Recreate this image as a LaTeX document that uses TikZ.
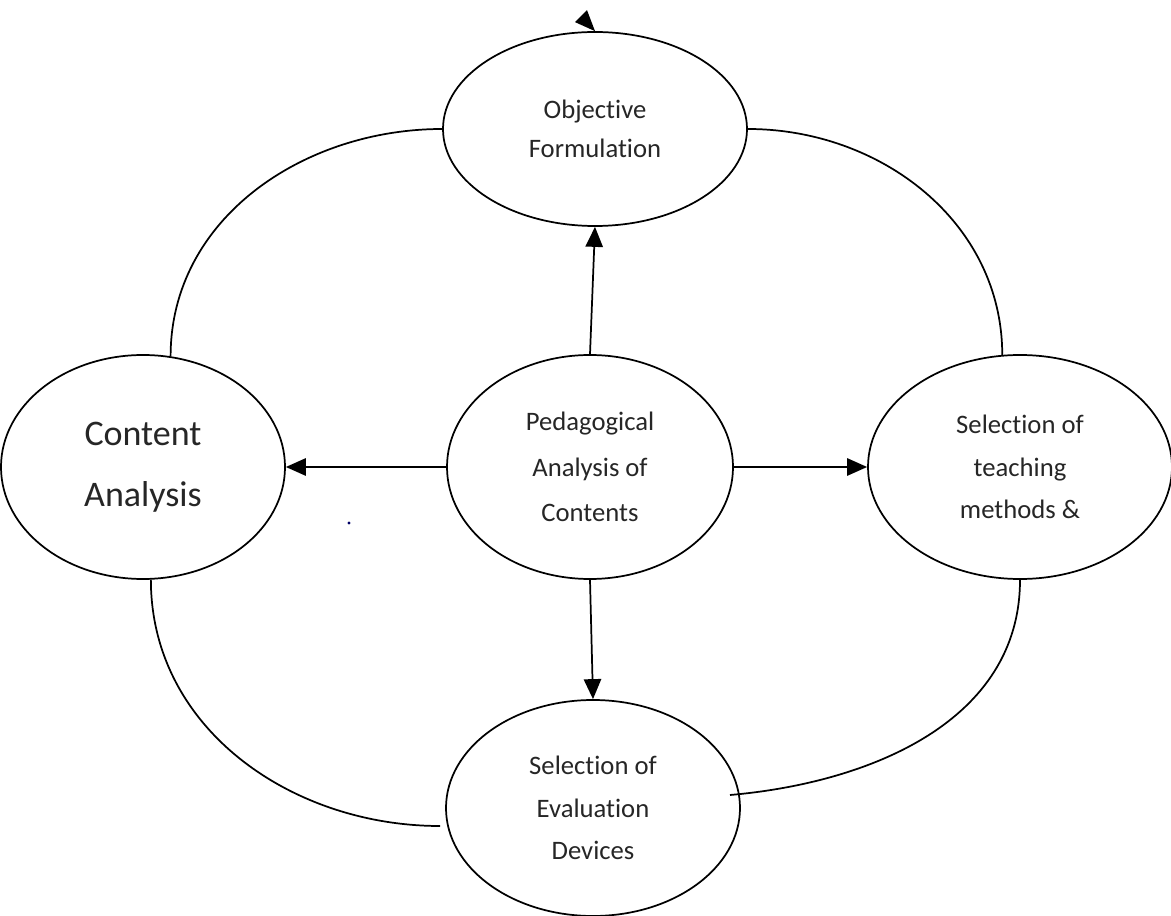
\documentclass[tikz,border=0pt]{standalone}
\usepackage{fontspec}
\setmainfont{Carlito}[Ligatures={NoCommon,NoContextual}]
\usetikzlibrary{shapes.geometric,arrows.meta}

\begin{document}
\begin{tikzpicture}[x=0.75pt,y=0.75pt,line width=1.3pt,
        >={Triangle[length=15pt,width=13pt]},
        bubble/.style={ellipse,draw,inner sep=0pt,align=center,text=black!85,
            font=\fontsize{20pt}{32pt}\selectfont}]
        \useasboundingbox (0,0) rectangle (1171,915);
        \node[bubble,minimum width=228pt,minimum height=145.5pt,
            font=\fontsize{20pt}{29pt}\selectfont] (obj) at (595,786) {Objective\\Formulation};
        \node[bubble,minimum width=213pt,minimum height=168pt,
            font=\fontsize{27pt}{46pt}\selectfont] (cont) at (143,448) {Content\\Analysis};
        \node[bubble,minimum width=214.5pt,minimum height=168pt,
            font=\fontsize{20pt}{34pt}\selectfont] (ped) at (590,448) {Pedagogical\\Analysis of\\Contents};
        \node[bubble,minimum width=228pt,minimum height=168pt] (sel) at (1020,448) {Selection of\\teaching\\methods \&};
        \node[bubble,minimum width=220.5pt,minimum height=162pt] (eval) at (593,107) {Selection of\\Evaluation\\Devices};
        \coordinate (evl) at (440,89);
        \coordinate (evr) at (730,120);
        \path[->]
        (ped.north) edge (obj.south)
        (ped.west) edge (cont.east)
        (ped.east) edge (sel.west)
        (ped.south) edge (eval.north);
        % the loop round the outside
        \draw (cont.76) to[out=90,in=180] (obj.west);
        \draw (obj.east) to[out=0,in=90] (sel.99);
        \draw (cont.274) to[out=-90,in=180] (evl);
        \draw (sel.south) to[out=-90,in=5] (evr);
        \fill (obj.north) -- ++(-20,9) -- ++(12,12) -- cycle;
        \fill[blue!40!black] (349,392) circle (1.6);
    \end{tikzpicture}
\end{document}
